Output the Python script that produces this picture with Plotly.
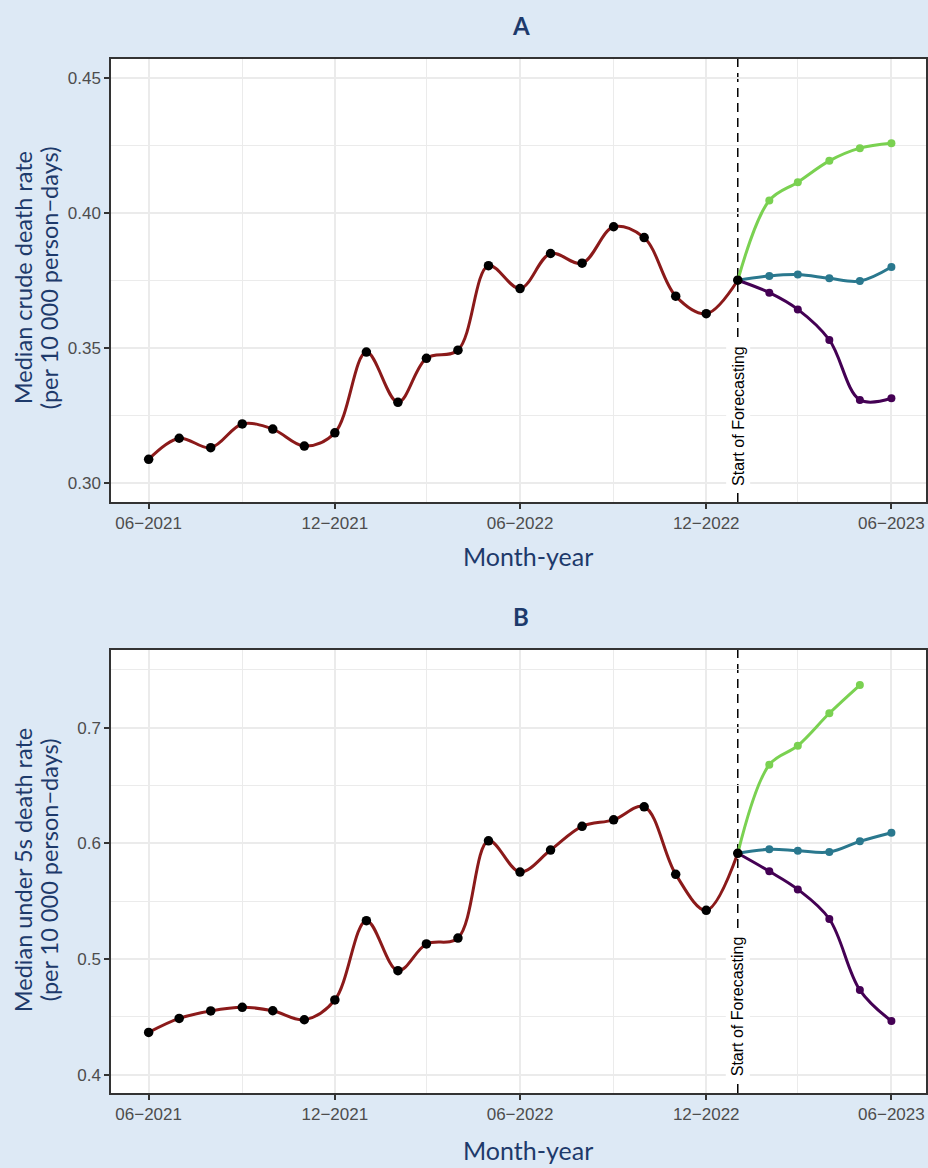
import plotly.graph_objects as go

# ---------------- data ----------------
hist_months = ["2021-06-01", "2021-07-01", "2021-08-01", "2021-09-01", "2021-10-01",
               "2021-11-01", "2021-12-01", "2022-01-01", "2022-02-01", "2022-03-01",
               "2022-04-01", "2022-05-01", "2022-06-01", "2022-07-01", "2022-08-01",
               "2022-09-01", "2022-10-01", "2022-11-01", "2022-12-01", "2023-01-01"]
fc_months = ["2023-01-01", "2023-02-01", "2023-03-01", "2023-04-01", "2023-05-01", "2023-06-01"]

crude_hist = [0.3089, 0.3167, 0.3132, 0.3220, 0.3201, 0.3138, 0.3187, 0.3486, 0.3300, 0.3463,
              0.3493, 0.3806, 0.3721, 0.3851, 0.3815, 0.3950, 0.3910, 0.3693, 0.3628, 0.3752]
crude_high = [0.3752, 0.4047, 0.4115, 0.4194, 0.4241, 0.4259]
crude_mid = [0.3752, 0.3768, 0.3773, 0.3759, 0.3749, 0.3801]
crude_low = [0.3752, 0.3706, 0.3644, 0.3531, 0.3309, 0.3315]

u5_hist = [0.4366, 0.4487, 0.4551, 0.4583, 0.4553, 0.4475, 0.4646, 0.5331, 0.4899, 0.5130,
           0.5181, 0.6022, 0.5752, 0.5942, 0.6147, 0.6203, 0.6316, 0.5732, 0.5421, 0.5914]
u5_high = [0.5914, 0.6679, 0.6844, 0.7124, 0.7368]
u5_mid = [0.5914, 0.5948, 0.5936, 0.5925, 0.6017, 0.6092]
u5_low = [0.5914, 0.5758, 0.5602, 0.5346, 0.4732, 0.4464]

x_tickvals = ["2021-06-01", "2021-12-01", "2022-06-01", "2022-12-01", "2023-06-01"]
x_ticktext = ["06\u22122021", "12\u22122021", "06\u22122022", "12\u22122022", "06\u22122023"]
x_minor = ["2021-09-01", "2022-03-01", "2022-09-01", "2023-03-01"]

forecast_start = "2023-01-01"
panel_titles = ["A", "B"]
y_titles = [["Median crude death rate", "(per 10 000 person\u2212days)"],
            ["Median under 5s death rate", "(per 10 000 person\u2212days)"]]
x_title = "Month-year"
forecast_label = "Start of Forecasting"

# ---------------- style ----------------
BG = "#dde9f5"
NAVY = "#1d3a6b"
HIST = "#8b1a1a"
GREEN = "#7ad151"
TEAL = "#2a788e"
PURPLE = "#440154"
GRID = "#ebebeb"
AX = "#333333"
TICK = "#4d4d4d"

W, H = 928, 1168
ML, MR, MT, MB = 111, 0, 59, 75
plot_h = H - MT - MB

def yfrac(py):
    return (H - MB - py) / plot_h

domA = [yfrac(502), 1.0]
domB = [0.0, yfrac(650)]

fig = go.Figure()

def add_panel(idx, hist, high, mid, low):
    xa = "x" if idx == 1 else "x2"
    ya = "y" if idx == 1 else "y2"
    fig.add_trace(go.Scatter(x=hist_months, y=hist, mode="lines", line=dict(color=HIST, width=3, shape="spline", smoothing=1),
                             xaxis=xa, yaxis=ya, showlegend=False, hoverinfo="skip"))
    for vals, col in [(high, GREEN), (mid, TEAL), (low, PURPLE)]:
        fig.add_trace(go.Scatter(x=fc_months[:len(vals)], y=vals, mode="lines+markers",
                                 line=dict(color=col, width=3, shape="spline", smoothing=1),
                                 marker=dict(color=col, size=8),
                                 xaxis=xa, yaxis=ya, showlegend=False))
    fig.add_trace(go.Scatter(x=hist_months, y=hist, mode="markers", marker=dict(color="black", size=9.5),
                             xaxis=xa, yaxis=ya, showlegend=False))

add_panel(1, crude_hist, crude_high, crude_mid, crude_low)
add_panel(2, u5_hist, u5_high, u5_mid, u5_low)

xcommon = dict(range=["2021-04-25", "2023-07-05"], tickvals=x_tickvals, ticktext=x_ticktext,
               showgrid=True, gridcolor=GRID, gridwidth=1.5,
               minor=dict(tickvals=x_minor, showgrid=True, gridcolor=GRID, gridwidth=1, ticks=""),
               showline=True, linecolor=AX, linewidth=1.5, mirror=True,
               ticks="outside", ticklen=5, tickwidth=1.5, tickcolor=AX,
               tickfont=dict(family="Liberation Sans, Arial", size=17, color=TICK),
               zeroline=False)
ycommon = dict(showgrid=True, gridcolor=GRID, gridwidth=1.5,
               showline=True, linecolor=AX, linewidth=1.5, mirror=True,
               ticks="outside", ticklen=5, tickwidth=1.5, tickcolor=AX,
               tickfont=dict(family="Liberation Sans, Arial", size=17, color=TICK),
               zeroline=False)

fig.update_layout(
    width=W, height=H,
    margin=dict(l=ML, r=MR, t=MT, b=MB),
    paper_bgcolor=BG, plot_bgcolor="white",
    xaxis=dict(**xcommon, domain=[0, 1], anchor="y"),
    yaxis=dict(**ycommon, domain=domA, anchor="x", range=[0.2931, 0.4571],
               tickvals=[0.30, 0.35, 0.40, 0.45], ticktext=["0.30", "0.35", "0.40", "0.45"],
               minor=dict(tickvals=[0.325, 0.375, 0.425], showgrid=True, gridcolor=GRID, gridwidth=1, ticks="")),
    xaxis2=dict(**xcommon, domain=[0, 1], anchor="y2"),
    yaxis2=dict(**ycommon, domain=domB, anchor="x2", range=[0.3842, 0.7671],
                tickvals=[0.4, 0.5, 0.6, 0.7], ticktext=["0.4", "0.5", "0.6", "0.7"],
                minor=dict(tickvals=[0.45, 0.55, 0.65, 0.75], showgrid=True, gridcolor=GRID, gridwidth=1, ticks="")),
    font=dict(family="Liberation Sans, Arial"),
)

# forecast lines
for xr, yr in [("x", "y"), ("x2", "y2")]:
    fig.add_shape(type="line", xref=xr, yref=yr + " domain", x0=forecast_start, x1=forecast_start,
                  y0=0, y1=1, line=dict(color="black", width=1.5, dash="9px,6px"), layer="below")

anns = []
for xr, yr, yv in [("x", "y", 0.2975), ("x2", "y2", 0.3950)]:
    anns.append(dict(x=forecast_start, y=yv, xref=xr, yref=yr, text=forecast_label, textangle=-90,
                     showarrow=False, xanchor="center", yanchor="bottom", bgcolor="white", borderpad=3,
                     font=dict(family="Liberation Sans, Arial", size=16, color="black")))

def px_to_paper_y(py):
    return (H - MB - py) / plot_h

def px_to_paper_x(px):
    return (px - ML) / (W - ML - MR)

for title, ty, xty, yty, ytitle in [(panel_titles[0], 25, 556, 278, y_titles[0]),
                                     (panel_titles[1], 616, 1150, 870, y_titles[1])]:
    anns.append(dict(x=px_to_paper_x(522), y=px_to_paper_y(ty), xref="paper", yref="paper", text="<b>" + title + "</b>",
                     showarrow=False, xanchor="center", yanchor="middle",
                     font=dict(family="Lato", size=24, color=NAVY)))
    anns.append(dict(x=px_to_paper_x(529), y=px_to_paper_y(xty), xref="paper", yref="paper", text=x_title,
                     showarrow=False, xanchor="center", yanchor="middle",
                     font=dict(family="Lato", size=25, color=NAVY)))
    for line_txt, lx in zip(ytitle, [23, 49]):
        anns.append(dict(x=px_to_paper_x(lx), y=px_to_paper_y(yty), xref="paper", yref="paper", text=line_txt,
                         showarrow=False, xanchor="center", yanchor="middle", textangle=-90,
                         font=dict(family="Lato", size=23.5, color=NAVY)))

fig.update_layout(annotations=anns)
fig.write_html("out.html", config={"displayModeBar": False},
               post_script="document.body.style.margin='0';document.body.style.overflow='hidden';")
